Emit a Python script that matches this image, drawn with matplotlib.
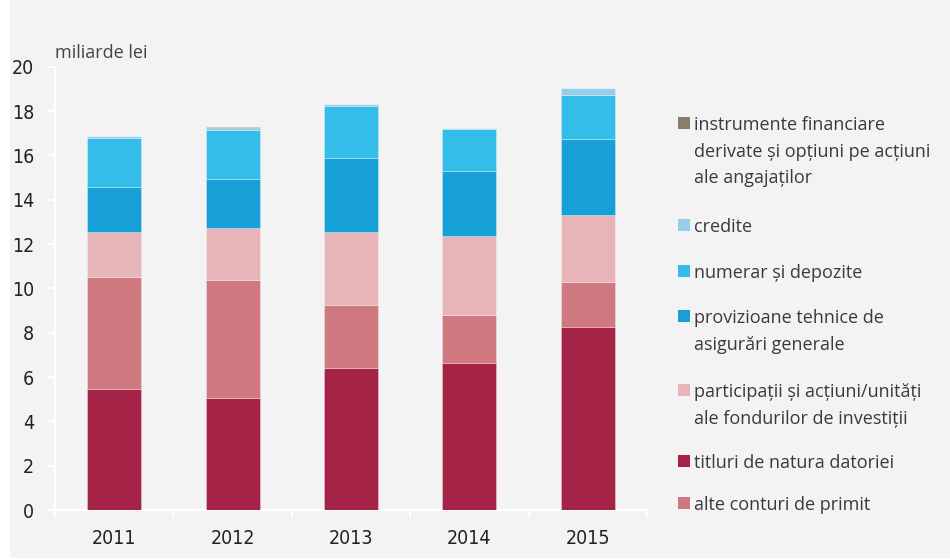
import matplotlib
matplotlib.use("Agg")
import matplotlib.pyplot as plt
from matplotlib.patches import Rectangle
from matplotlib import font_manager
import numpy as np

# Data (miliarde lei)
years = ["2011", "2012", "2013", "2014", "2015"]
titluri = [5.46, 5.07, 6.42, 6.63, 8.26]
alte_conturi = [5.04, 5.32, 2.81, 2.17, 2.03]
participatii = [2.06, 2.33, 3.31, 3.55, 3.02]
provizioane = [2.03, 2.23, 3.32, 2.93, 3.44]
numerar = [2.21, 2.19, 2.38, 1.89, 1.98]
credite = [0.07, 0.08, 0.06, 0.06, 0.31]
derivate = [0.0, 0.06, 0.0, 0.0, 0.0]

# stacking order, bottom to top
series = [
    (titluri, "#a42346"),
    (alte_conturi, "#d07880"),
    (participatii, "#e7b5b8"),
    (provizioane, "#179fd8"),
    (numerar, "#33bde8"),
    (credite, "#95cdea"),
    (derivate, "#8b7d6b"),
]

# legend entries, top to bottom as in the reference
legend_items = [
    ("instrumente financiare\nderivate și opțiuni pe acțiuni\nale angajaților", "#8b7d6b"),
    ("credite", "#95cdea"),
    ("numerar și depozite", "#33bde8"),
    ("provizioane tehnice de\nasigurări generale", "#179fd8"),
    ("participații și acțiuni/unități\nale fondurilor de investiții", "#e7b5b8"),
    ("titluri de natura datoriei", "#a42346"),
    ("alte conturi de primit", "#d07880"),
]
legend_y = [123, 225, 271, 316, 390, 461, 503]  # pixel rows of first text line

# narrow face for tick numbers if available
names = {f.name for f in font_manager.fontManager.ttflist}
narrow = [n for n in ["Liberation Sans Narrow", "DejaVu Sans"] if n in names] or ["DejaVu Sans"]

W, H = 950, 560
bg = "#f3f3f3"
fig = plt.figure(figsize=(W / 100, H / 100), dpi=100, facecolor="white")
fig.patches.append(Rectangle((10 / W, 2 / H), 1, 1, transform=fig.transFigure,
                             facecolor=bg, edgecolor="none", zorder=-10))

ax = fig.add_axes([55 / W, 1 - 510 / H, (647 - 55) / W, (510 - 66.7) / H])
ax.set_facecolor(bg)

x = np.arange(len(years))
bottom = np.zeros(len(years))
for vals, col in series:
    vals = np.array(vals)
    ax.bar(x, vals, width=0.456, bottom=bottom, color=col,
           edgecolor=(1, 1, 1, 0.35), linewidth=0.6, zorder=3)
    bottom += vals

ax.set_xlim(-0.5, 4.5)
ax.set_ylim(0, 20)
ax.set_yticks(np.arange(0, 21, 2))

for s in ["top", "right"]:
    ax.spines[s].set_visible(False)
for s in ["left", "bottom"]:
    ax.spines[s].set_color("white")
    ax.spines[s].set_linewidth(1.5)

tick_font = {"family": narrow, "stretch": "condensed", "size": 14}
ax.set_xticks(x)
ax.set_xticklabels(years, fontdict=tick_font, color="#222222")
ax.tick_params(axis="x", which="major", length=0, pad=14)
ax.set_xticks(np.arange(-0.5, 5, 1), minor=True)
ax.tick_params(axis="x", which="minor", length=6, width=1.5, color="white", direction="out")
ax.set_yticklabels([str(v) for v in range(0, 21, 2)], fontdict=tick_font, color="#222222")
ax.tick_params(axis="y", length=6, width=1.5, color="white", pad=9)

fig.text(55 / W, 1 - 53 / H, "miliarde lei", fontsize=13, color="#444444",
         family=["Open Sans", "DejaVu Sans"], ha="left", va="center")

# legend drawn by hand so the swatch sits on the first text line
for (label, col), py in zip(legend_items, legend_y):
    fig.patches.append(Rectangle((678 / W, 1 - (py + 6) / H), 12 / W, 12 / H,
                                 transform=fig.transFigure, facecolor=col,
                                 edgecolor="none"))
    fig.text(694 / W, 1 - (py - 7) / H, label, fontsize=13, color="#3a3a3a",
             family=["Open Sans", "DejaVu Sans"], ha="left", va="top",
             linespacing=1.62)

fig.savefig("out.png", dpi=100, facecolor="white")
